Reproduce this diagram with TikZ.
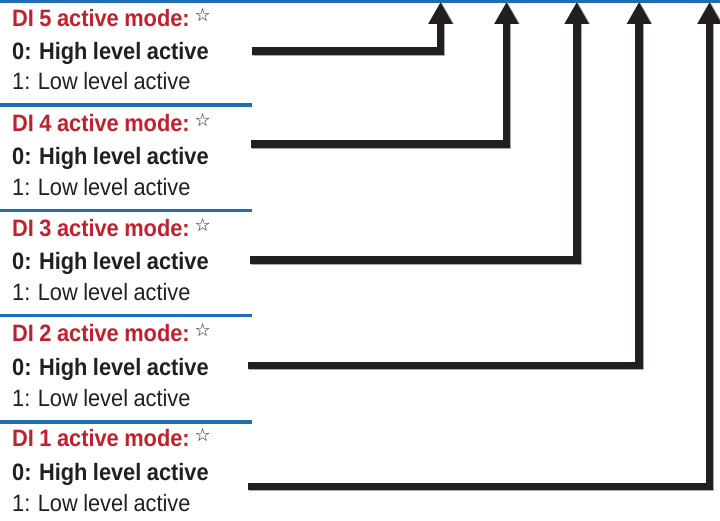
\documentclass[tikz,border=0pt]{standalone}
\usepackage{fontspec}
\setmainfont{Liberation Sans}[FakeStretch=0.92, WordSpace=0.9]
\newfontfamily\starfont{DejaVu Sans}
\usetikzlibrary{arrows.meta}
\definecolor{lineblack}{RGB}{35,31,32}
\definecolor{shadowgray}{RGB}{170,170,170}
\definecolor{titlered}{RGB}{193,32,45}
\definecolor{rulesblue}{RGB}{30,110,180}
\tikzset{
  titletext/.style={anchor=base west, inner sep=0pt, text=titlered, font=\fontsize{23.7}{27}\selectfont\bfseries},
  hightext/.style={anchor=base west, inner sep=0pt, text=lineblack, font=\fontsize{23.7}{27}\selectfont\bfseries},
  lowtext/.style={anchor=base west, inner sep=0pt, text=lineblack, font=\fontsize{23.7}{27}\selectfont},
  bluerule/.style={draw=rulesblue, line width=3.2pt},
  connector/.style={draw=lineblack, line width=7.6pt, line join=miter, -{Triangle[width=23pt,length=22pt]}},
  shadowline/.style={draw=shadowgray, line width=7.6pt, line join=miter, -{Triangle[width=23pt,length=22pt]}},
}
\newcommand{\mystar}{\hspace{5pt}\raisebox{5pt}{\textcolor{lineblack}{\starfont\fontsize{18}{20}\selectfont ☆}}}
\begin{document}
\begin{tikzpicture}[x=1pt,y=-1pt]
\useasboundingbox (0,0) rectangle (720,521);
\fill[white] (0,0) rectangle (720,521);
% blue rules
\coordinate (r0a) at (0,1.2); \coordinate (r0b) at (720,1.2);
\draw[bluerule] (r0a) -- (r0b);
\foreach \i/\y in {1/105,2/210.2,3/315.4,4/422} {
  \coordinate (r\i a) at (0,\y); \coordinate (r\i b) at (252,\y);
  \draw[bluerule] (r\i a) -- (r\i b);
}
% text blocks
\foreach \k/\n in {0/5,1/4,2/3,3/2,4/1} {
  \node[titletext] (title\n) at (12,{26.7+105*\k}) {DI \n{} active mode:\mystar};
  \node[hightext] (high\n) at (12,{59.8+105.1*\k}) {0: High level active};
  \node[lowtext] (low\n) at (12,{90+105.4*\k}) {1: Low level active};
}
% connector coordinates
\coordinate (s5) at (252,51);    \coordinate (t5) at (440.5,2);
\coordinate (s4) at (251,144);   \coordinate (t4) at (506.5,2);
\coordinate (s3) at (250,260);   \coordinate (t3) at (576.7,2);
\coordinate (s2) at (248,365.5); \coordinate (t2) at (639,2);
\coordinate (s1) at (248,486.5); \coordinate (t1) at (709.5,2);
\foreach \n in {5,4,3,2,1} {
  \draw[shadowline] ([shift={(1,1)}]s\n) -| ([shift={(1,0)}]t\n);
}
\foreach \n in {5,4,3,2,1} {
  \draw[connector] (s\n) -| (t\n);
}
\end{tikzpicture}
\end{document}
